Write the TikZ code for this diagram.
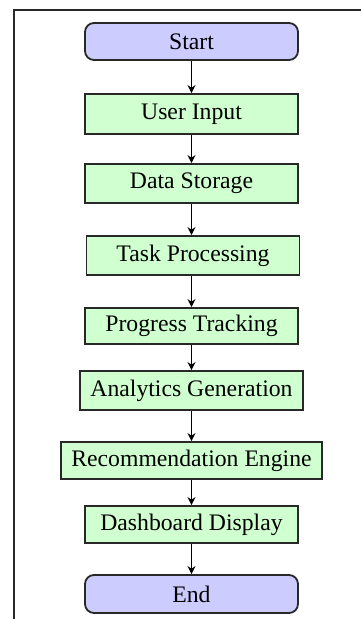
\documentclass[tikz,border=0pt]{standalone}
\usepackage{fontspec}
\setmainfont{Liberation Serif}
\usetikzlibrary{arrows.meta}
\definecolor{termfill}{RGB}{204,204,255}
\definecolor{stepfill}{RGB}{208,255,208}
\definecolor{edgegray}{RGB}{40,40,40}
\tikzset{
  base/.style={draw=edgegray, line width=0.9pt, minimum width=106.5pt,
    minimum height=19pt, inner xsep=5.25pt, inner ysep=0pt,
    font=\fontsize{11.85}{14}\selectfont, text=black},
  terminal/.style={base, fill=termfill, rounded corners=4.5pt},
  stepbox/.style={base, fill=stepfill},
  flow/.style={draw=black, line width=0.7pt, -{Stealth[length=4pt,width=4pt]}},
  frame/.style={draw=edgegray, line width=0.8pt}
}
\begin{document}
\begin{tikzpicture}[x=0.5pt, y=-0.5pt]
  \useasboundingbox (0,0) rectangle (361,619);
  % page frame: top and left rules
  \coordinate (ftl) at (14,10);
  \coordinate (ftr) at (361,10);
  \coordinate (fbl) at (14,619);
  \draw[frame] (ftr) -- (ftl) -- (fbl);

  \node[terminal, minimum height=18.5pt] (start) at (191.5,41.5) {Start};
  \node[stepbox, minimum height=20pt] (input) at (191.5,114) {User Input};
  \node[stepbox, minimum height=19.5pt] (storage) at (191.5,183.5) {Data Storage};
  \node[stepbox, minimum height=19.5pt] (task) at (193,255.5) {Task Processing};
  \node[stepbox, minimum height=18pt] (progress) at (191.5,326) {Progress Tracking};
  \node[stepbox, minimum height=19.5pt] (analytics) at (191.5,390.5) {Analytics Generation};
  \node[stepbox, minimum height=18.5pt] (recommend) at (191.5,460.5) {Recommendation Engine};
  \node[stepbox, minimum height=18.5pt] (dashboard) at (191.5,524.5) {Dashboard Display};
  \node[terminal, minimum height=19pt] (end) at (191.5,594) {End};

  \draw[flow] (start) -- (input);
  \draw[flow] (input) -- (storage);
  \draw[flow] (storage.south) -- (storage.south |- task.north);
  \draw[flow] (task.south -| progress.north) -- (progress.north);
  \draw[flow] (progress) -- (analytics);
  \draw[flow] (analytics) -- (recommend);
  \draw[flow] (recommend) -- (dashboard);
  \draw[flow] (dashboard) -- (end);
\end{tikzpicture}
\end{document}
